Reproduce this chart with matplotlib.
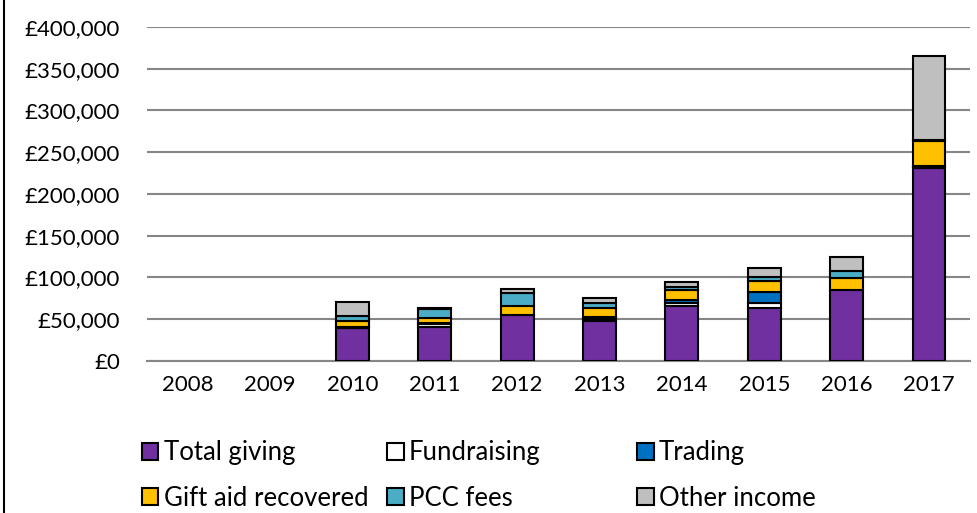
import matplotlib.pyplot as plt
from matplotlib.ticker import FuncFormatter
from matplotlib.lines import Line2D
from matplotlib.patches import Patch
import numpy as np

plt.rcParams['font.family'] = ['Lato', 'DejaVu Sans']

years = ['2008', '2009', '2010', '2011', '2012', '2013', '2014', '2015', '2016', '2017']
total_giving = [0, 0, 39000, 41000, 55000, 48000, 66000, 63000, 85000, 231000]
fundraising = [0, 0, 1000, 3000, 0, 2000, 3000, 7000, 0, 1000]
trading = [0, 0, 1000, 1000, 0, 3000, 4000, 13000, 0, 1000]
gift_aid = [0, 0, 7000, 7000, 11000, 10000, 12000, 13000, 14000, 30000]
pcc_fees = [0, 0, 6000, 10000, 15000, 7000, 4000, 4000, 9000, 2000]
other_income = [0, 0, 17000, 1000, 5000, 6000, 6000, 11000, 16000, 100000]

series = [
    ('Total giving', total_giving, '#7030A0'),
    ('Fundraising', fundraising, '#FFFFFF'),
    ('Trading', trading, '#0070C0'),
    ('Gift aid recovered', gift_aid, '#FFC000'),
    ('PCC fees', pcc_fees, '#4BACC6'),
    ('Other income', other_income, '#BFBFBF'),
]

fig = plt.figure(figsize=(9.77, 5.13), dpi=100)
ax = fig.add_axes([0.150, 0.2963, 0.843, 0.6511])

x = np.arange(len(years))
bottom = np.zeros(len(years))
handles = {}
for name, vals, col in series:
    vals = np.array(vals, dtype=float)
    lw = [1.5 if v > 0 else 0 for v in vals]
    ax.bar(x, vals, 0.4, bottom=bottom, color=col, edgecolor='black',
           linewidth=lw, zorder=3)
    bottom += vals
    handles[name] = Patch(facecolor=col, edgecolor='black', linewidth=1.5)

ax.set_ylim(0, 400000)
ax.set_xlim(-0.5, len(years) - 0.5)
ax.set_yticks(np.arange(0, 400001, 50000))
ax.yaxis.set_major_formatter(FuncFormatter(lambda v, p: '£{:,.0f}'.format(v)))
ax.set_xticks(x)
ax.set_xticklabels(years)
ax.grid(axis='y', color='#868686', linewidth=1.5, zorder=0)
for s in ['top', 'right', 'left']:
    ax.spines[s].set_visible(False)
ax.spines['bottom'].set_color('#868686')
ax.spines['bottom'].set_linewidth(1.5)
ax.tick_params(axis='both', length=0, labelsize=16)
ax.tick_params(axis='y', pad=19)
ax.tick_params(axis='x', pad=10)

# legend laid out as equal-width columns, filled row by row
columns = [['Total giving', 'Gift aid recovered'],
           ['Fundraising', 'PCC fees'],
           ['Trading', 'Other income']]
col_x = [0.145, 0.396, 0.652]
for names, cx in zip(columns, col_x):
    leg = fig.legend([handles[n] for n in names], names, frameon=False,
                     loc='lower left', bbox_to_anchor=(cx, 0.004),
                     fontsize=18.5, borderpad=0, borderaxespad=0,
                     handlelength=0.65, handleheight=0.65, handletextpad=0.2,
                     labelspacing=0.8)

fig.add_artist(Line2D([0.004, 0.004], [0, 1], color='black', linewidth=1.5,
                      transform=fig.transFigure))

fig.savefig('out.png', dpi=100)
